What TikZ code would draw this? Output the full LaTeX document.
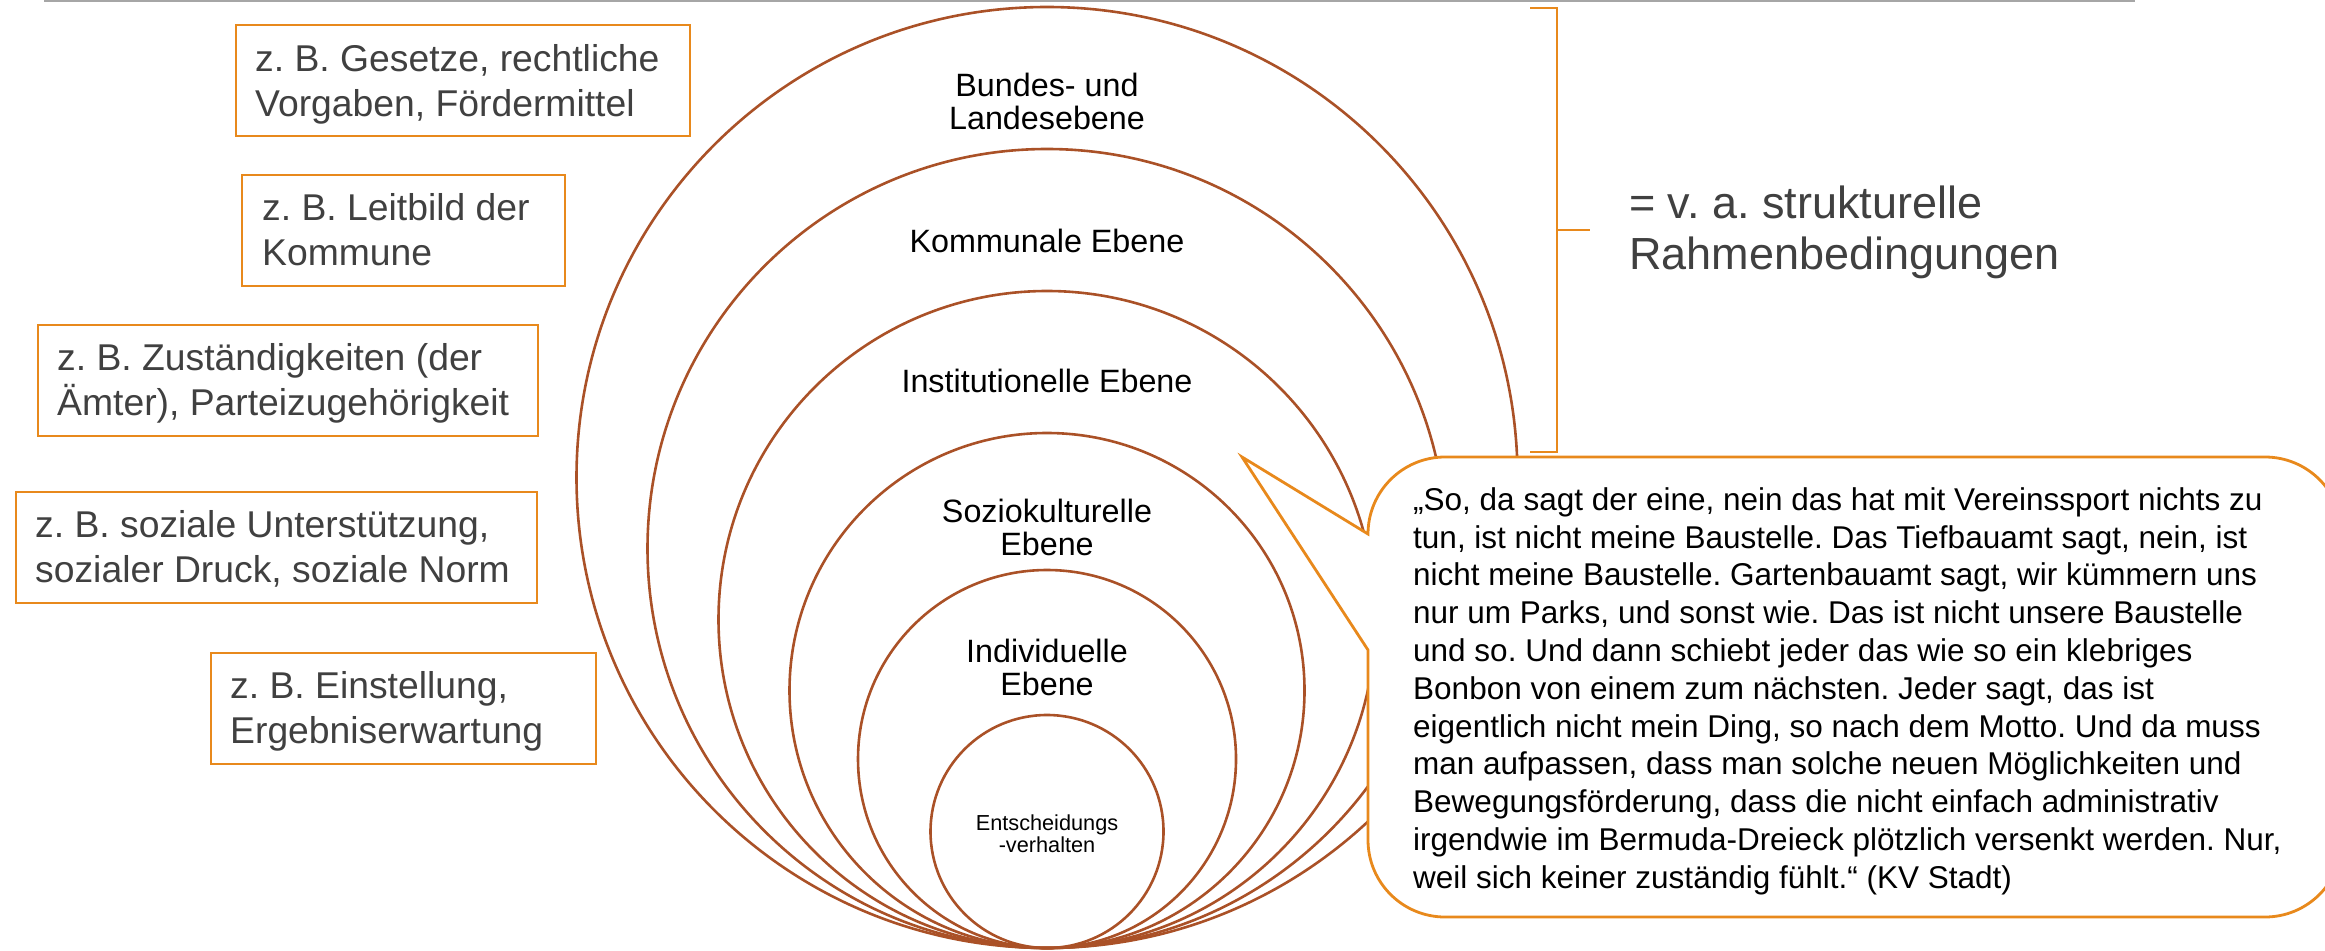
\documentclass[tikz,border=0pt]{standalone}
\usepackage{fontspec}
\setmainfont{Liberation Sans}
\definecolor{ringcol}{HTML}{AA5127}
\definecolor{accent}{HTML}{E8891C}
\definecolor{notecol}{HTML}{404040}
\definecolor{rulecol}{HTML}{A6A6A6}
\newcommand\topstrut[1]{\rule{0pt}{#1}}
\frenchspacing

\begin{document}
\begin{tikzpicture}[x=1pt,y=-1pt,
  level/.style={circle, draw=ringcol, line width=2.6pt, inner sep=0pt, minimum size=#1},
  exframe/.style={rectangle, draw=accent, line width=2.4pt, inner sep=0pt, anchor=north west, minimum height=111pt},
  extext/.style={anchor=north west, inner sep=0pt, align=left, text=notecol, font=\fontsize{37.3}{45}\selectfont},
  levtext/.style={anchor=north, inner sep=0pt, align=center, font=\fontsize{32.3}{33.5}\selectfont},
  bracket/.style={draw=accent, line width=2.4pt},
  bubble/.style={draw=accent, fill=white, line width=2.8pt, line join=miter}
]
\useasboundingbox (0,0) rectangle (2325,950);
\clip (0,0) rectangle (2325,950);

% header rule
\coordinate (ruleL) at (44,1.5);
\coordinate (ruleR) at (2135,1.5);
\draw[rulecol, line width=2pt] (ruleL) -- (ruleR);

% nested levels, all touching at the bottom
\node[level=941pt] (c1) at (1047,477.5) {};
\node[level=799pt] (c2) at (1047,548.5) {};
\node[level=657pt] (c3) at (1047,619.5) {};
\node[level=515pt] (c4) at (1047,690.5) {};
\node[level=378pt] (c5) at (1047,759) {};
\node[level=233pt] (c6) at (1047,831.5) {};

% level labels
\node[levtext] (l1) at (1047,64) {\topstrut{32pt}Bundes- und\\Landesebene};
\node[levtext] (l2) at (1047,220) {\topstrut{32pt}Kommunale Ebene};
\node[levtext] (l3) at (1047,360) {\topstrut{32pt}Institutionelle Ebene};
\node[levtext] (l4) at (1047,490) {\topstrut{32pt}Soziokulturelle\\Ebene};
\node[levtext] (l5) at (1047,630) {\topstrut{32pt}Individuelle\\Ebene};
\node[levtext, font=\fontsize{21.7}{22}\selectfont] (l6) at (1047,808) {\topstrut{22pt}Entscheidungs\\-verhalten};

% example boxes
\node[exframe, minimum width=454pt] (f1) at (235,24) {};
\node[extext] (t1) at (255,31) {\topstrut{40pt}z. B. Gesetze, rechtliche\\Vorgaben, Fördermittel};
\node[exframe, minimum width=323pt] (f2) at (241,174) {};
\node[extext] (t2) at (262,180.5) {\topstrut{40pt}z. B. Leitbild der\\Kommune};
\node[exframe, minimum width=500pt] (f3) at (37,324) {};
\node[extext] (t3) at (57,330.5) {\topstrut{40pt}z. B. Zuständigkeiten (der\\Ämter), Parteizugehörigkeit};
\node[exframe, minimum width=521pt] (f4) at (15,491) {};
\node[extext] (t4) at (35,497.5) {\topstrut{40pt}z. B. soziale Unterstützung,\\sozialer Druck, soziale Norm};
\node[exframe, minimum width=385pt] (f5) at (210,652) {};
\node[extext] (t5) at (230,658.5) {\topstrut{40pt}z. B. Einstellung,\\Ergebniserwartung};

% bracket over the structural levels
\coordinate (brT) at (1530,8);
\coordinate (brB) at (1530,452);
\coordinate (brM) at (1557,230);
\coordinate (brTick) at (1590,230);
\draw[bracket] (brT) -- (1557,8) -- (1557,452) -- (brB);
\draw[bracket] (brM) -- (brTick);
\node[extext, font=\fontsize{45}{51}\selectfont] (frame) at (1629,170) {\topstrut{48pt}= v. a. strukturelle\\Rahmenbedingungen};

% speech bubble with pointer
\coordinate (tip) at (1242,457);
\filldraw[bubble] (1445,457) -- (2265,457)
  arc[start angle=-90, end angle=0, radius=77] -- (2342,840)
  arc[start angle=0, end angle=90, radius=77] -- (1445,917)
  arc[start angle=90, end angle=180, radius=77] -- (1368,650)
  -- (tip) -- (1368,534)
  arc[start angle=180, end angle=270, radius=77] -- cycle;
\node[anchor=north west, inner sep=0pt, align=left, font=\fontsize{31.5}{37.8}\selectfont] (quote) at (1413,475)
{\topstrut{35pt}„So, da sagt der eine, nein das hat mit Vereinssport nichts zu\\
tun, ist nicht meine Baustelle. Das Tiefbauamt sagt, nein, ist\\
nicht meine Baustelle. Gartenbauamt sagt, wir kümmern uns\\
nur um Parks, und sonst wie. Das ist nicht unsere Baustelle\\
und so. Und dann schiebt jeder das wie so ein klebriges\\
Bonbon von einem zum nächsten. Jeder sagt, das ist\\
eigentlich nicht mein Ding, so nach dem Motto. Und da muss\\
man aufpassen, dass man solche neuen Möglichkeiten und\\
Bewegungsförderung, dass die nicht einfach administrativ\\
irgendwie im Bermuda-Dreieck plötzlich versenkt werden. Nur,\\
weil sich keiner zuständig fühlt.“ (KV Stadt)};
\end{tikzpicture}
\end{document}
